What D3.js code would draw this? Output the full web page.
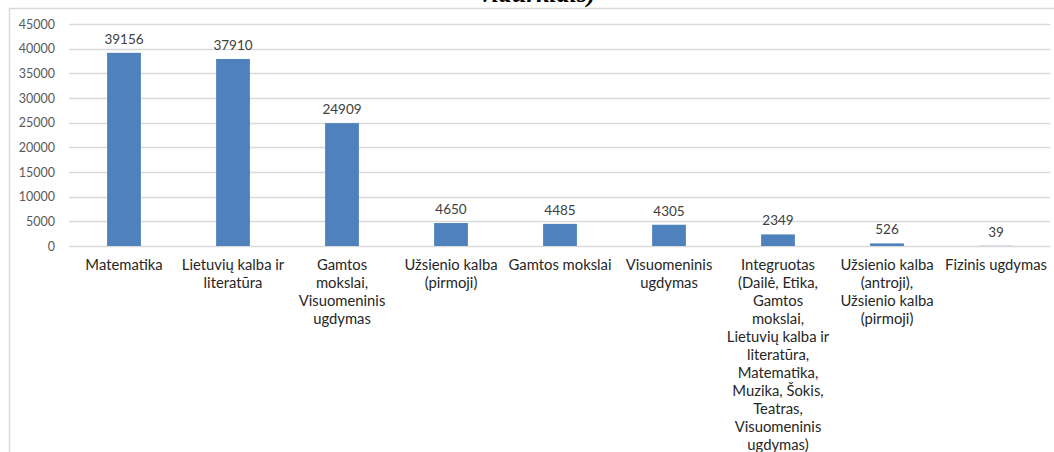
<!DOCTYPE html>
<html><head><meta charset="utf-8">
<script src="https://cdn.jsdelivr.net/npm/d3@7"></script>
<style>
html,body{margin:0;padding:0;background:#fff;}
svg{display:block;}
</style></head>
<body>
<svg id="chart" width="1054" height="452"></svg>
<script>
const categories = [
  "Matematika",
  "Lietuvių kalba ir literatūra",
  "Gamtos mokslai, Visuomeninis ugdymas",
  "Užsienio kalba (pirmoji)",
  "Gamtos mokslai",
  "Visuomeninis ugdymas",
  "Integruotas (Dailė, Etika, Gamtos mokslai, Lietuvių kalba ir literatūra, Matematika, Muzika, Šokis, Teatras, Visuomeninis ugdymas)",
  "Užsienio kalba (antroji), Užsienio kalba (pirmoji)",
  "Fizinis ugdymas"
];
const categoryLines = [
  ["Matematika"],
  ["Lietuvių kalba ir", "literatūra"],
  ["Gamtos", "mokslai,", "Visuomeninis", "ugdymas"],
  ["Užsienio kalba", "(pirmoji)"],
  ["Gamtos mokslai"],
  ["Visuomeninis", "ugdymas"],
  ["Integruotas", "(Dailė, Etika,", "Gamtos", "mokslai,", "Lietuvių kalba ir", "literatūra,", "Matematika,", "Muzika, Šokis,", "Teatras,", "Visuomeninis", "ugdymas)"],
  ["Užsienio kalba", "(antroji),", "Užsienio kalba", "(pirmoji)"],
  ["Fizinis ugdymas"]
];
const values = [39156, 37910, 24909, 4650, 4485, 4305, 2349, 526, 39];
const yTicks = [0, 5000, 10000, 15000, 20000, 25000, 30000, 35000, 40000, 45000];
const titleText = "vidurkiais)";

const svg = d3.select("#chart");
const W = 1054, H = 452;
const font = "Lato, 'Open Sans', sans-serif";

// frame
svg.append("line").attr("x1", 9.5).attr("x2", 9.5).attr("y1", 8).attr("y2", H)
  .attr("stroke", "#d9d9d9").attr("stroke-width", 1.5);
svg.append("line").attr("x1", 9).attr("x2", W).attr("y1", 8.5).attr("y2", 8.5)
  .attr("stroke", "#d9d9d9").attr("stroke-width", 1.5);

// cut-off title (partly above the top edge, as in the reference)
svg.append("text").attr("x", 538).attr("y", 2)
  .attr("text-anchor", "middle")
  .attr("font-family", "'Liberation Serif', 'Times New Roman', serif")
  .attr("font-style", "italic").attr("font-weight", "bold")
  .attr("font-size", 26).attr("fill", "#000").text(titleText);

const x = d3.scaleBand().domain(categories).range([69.5, 1050.5]).paddingInner(0.69).paddingOuter(0.345);
const y = d3.scaleLinear().domain([0, 45000]).range([246, 24]);

// gridlines
svg.append("g").selectAll("line").data(yTicks).join("line")
  .attr("x1", 69).attr("x2", 1050)
  .attr("y1", d => Math.round(y(d)) + 0.5).attr("y2", d => Math.round(y(d)) + 0.5)
  .attr("stroke", "#d9d9d9").attr("stroke-width", 1.3);

// y axis labels
const yAxis = d3.axisLeft(y).tickValues(yTicks).tickSize(0).tickPadding(0).tickFormat(d3.format("d"));
const ya = svg.append("g").attr("transform", "translate(55,0)").call(yAxis);
ya.select(".domain").remove();
ya.selectAll("text").attr("font-family", font).attr("font-size", 12.5).attr("fill", "#595959");

// bars
svg.append("g").selectAll("rect").data(values).join("rect")
  .attr("x", (d, i) => x(categories[i]))
  .attr("width", x.bandwidth())
  .attr("y", d => y(d))
  .attr("height", d => y(0) - y(d))
  .attr("fill", "#4f81bd");

// value labels
svg.append("g").selectAll("text").data(values).join("text")
  .attr("x", (d, i) => x(categories[i]) + x.bandwidth() / 2)
  .attr("y", d => y(d) - 9)
  .attr("text-anchor", "middle")
  .attr("font-family", font).attr("font-size", 13.5).attr("fill", "#404040")
  .text(d => d);

// category labels
const xAxis = d3.axisBottom(x).tickSize(0).tickFormat("");
const xa = svg.append("g").attr("transform", "translate(0,246)").call(xAxis);
xa.select(".domain").remove();
xa.selectAll(".tick").each(function(d, i) {
  const t = d3.select(this).append("text")
    .attr("text-anchor", "middle")
    .attr("font-family", font).attr("font-size", 14.8).attr("fill", "#262626");
  categoryLines[i].forEach((ln, k) => {
    t.append("tspan").attr("x", 0).attr("y", 24 + k * 18).text(ln);
  });
});
</script>
</body></html>
